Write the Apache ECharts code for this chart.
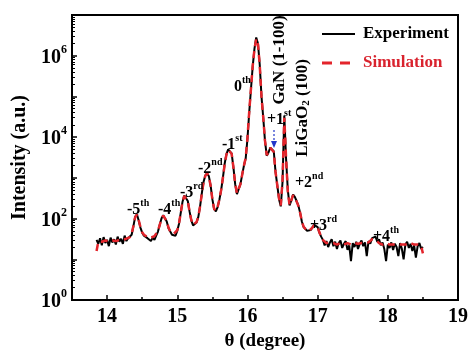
<!DOCTYPE html>
<html><head><meta charset="utf-8">
<script src="https://cdn.jsdelivr.net/npm/echarts@6/dist/echarts.min.js"></script>
<style>html,body{margin:0;padding:0;background:#fff}#c{width:471px;height:356px}</style>
</head><body><div id="c"></div>
<script>
const theta = [
13.85,13.875,13.9,13.925,13.95,13.975,
14,14.025,14.05,14.075,14.1,14.125,14.15,14.175,14.2,14.225,14.25,14.275,14.3,14.325,14.35,14.375,14.4,14.425,14.45,14.475,14.5,14.525,14.55,14.575,14.6,14.625,14.65,14.675,14.7,14.725,14.75,14.775,14.8,14.825,14.85,14.875,14.9,14.925,14.95,14.975,
15,15.025,15.05,15.075,15.1,15.125,15.15,15.175,15.2,15.225,15.25,15.275,15.3,15.325,15.35,15.375,15.4,15.425,15.45,15.475,15.5,15.525,15.55,15.575,15.6,15.625,15.65,15.675,15.7,15.725,15.75,15.775,15.8,15.825,15.85,15.875,15.9,15.925,15.95,15.975,
16,16.025,16.05,16.075,16.1,16.125,16.15,16.175,16.2,16.225,16.25,16.275,16.3,16.325,16.35,16.375,16.4,16.425,16.45,16.475,16.5,16.525,16.55,16.575,16.6,16.625,16.65,16.675,16.7,16.725,16.75,16.775,16.8,16.825,16.85,16.875,16.9,16.925,16.95,16.975,
17,17.025,17.05,17.075,17.1,17.125,17.15,17.175,17.2,17.225,17.25,17.275,17.3,17.325,17.35,17.375,17.4,17.425,17.45,17.475,17.5,17.525,17.55,17.575,17.6,17.625,17.65,17.675,17.7,17.725,17.75,17.775,17.8,17.825,17.85,17.875,17.9,17.925,17.95,17.975,
18,18.025,18.05,18.075,18.1,18.125,18.15,18.175,18.2,18.225,18.25,18.275,18.3,18.325,18.35,18.375,18.4,18.425,18.45,18.475,18.5
];
const experiment = [
30,24,33,22,35,25,
30,21,34,26,31,23,36,27,32,24, 38,28,33,30,40,65,110,128,90,60, 45,38,42,33,36,28,34,30,38,48, 70,100,120,118,85,58,48,40,44,38,
50,75,140,260,370,390,270,150,90,68, 66,80,110,200,420,800,1150,1300,1100,650, 300,170,150,190,290,500,1000,2200,3800,5000, 5300,4000,1800,700,400,420,700,1200,2000,3000,
9000,40000,150000,550000,1500000,2800000,2000000,600000,100000,30000, 8000,3500,4200,5500,5900,4500,1400,650,300,200, 800,34000,3000,500,210,280,390,340,270,210, 140,85,62,56,50,48,52,60,70,76,
62,45,36,30,22,28,20,26,31,21, 27,18,25,29,19,24,28,17,22,9, 25,20,27,18,24,29,21,26,12,28, 24,33,30,36,27,31,22,26,18,9,
23,19,26,17,24,20,12,25,18,10, 23,27,19,24,16,22,11,21,25,18,20
];
const simulation = [
16,27,28,27,28,29,
28,27,28,29,28,28,29,30,29,30, 31,32,33,35,42,66,108,125,92,62, 46,40,37,35,34,34,35,37,41,50, 70,98,118,115,86,60,48,43,42,44,
52,76,140,255,360,380,265,150,92,70, 68,82,112,200,410,790,1130,1280,1080,640, 300,175,155,195,295,500,990,2150,3700,4900, 5200,3900,1800,720,420,430,700,1200,2000,3100,
9500,42000,155000,560000,1450000,2600000,1900000,580000,100000,30000, 8200,3600,4300,5500,5600,4300,1400,650,310,210, 900,30000,3200,450,215,280,375,340,265,205, 140,86,63,56,51,49,53,60,69,74,
62,46,36,30,27,25,24,25,26,25, 24,23,24,25,24,23,24,25,24,23, 24,25,26,24,23,25,26,25,24,26, 28,31,32,30,27,25,24,23,24,25,
24,23,22,23,24,23,22,23,24,23, 22,23,24,25,24,23,22,23,22,21,14
];
const seriesNames = ['Experiment','Simulation'];
const xMajorTicks = [14,15,16,17,18,19];
const xMinorTicks = [13.5,14.5,15.5,16.5,17.5,18.5];
const yMajorTicks = [1,10,100,1e3,1e4,1e5,1e6,1e7];
const yLabelTicks = [1,100,1e4,1e6];
const yMinorTicks = [];
[1,10,100,1e3,1e4,1e5,1e6].forEach(d=>{for(let k=2;k<=9;k++) yMinorTicks.push(d*k);});

const FONT = '"Liberation Serif","Times New Roman",serif';
const RED = '#e3242b';
const chart = echarts.init(document.getElementById('c'), null, {renderer:'canvas'});

function ann(x, y, main, sup) {
  return {type:'text', x:x, y:y-2, z:100,
    style:{text:'{m|'+main+'}{s|'+sup+'}', textVerticalAlign:'middle', fill:'#000',
      rich:{m:{fontFamily:FONT,fontWeight:'bold',fontSize:16,lineHeight:20,fill:'#000',verticalAlign:'bottom'},
            s:{fontFamily:FONT,fontWeight:'bold',fontSize:10,fill:'#000',verticalAlign:'top'}}}};
}

chart.setOption({
  animation:false,
  backgroundColor:'#fff',
  grid:{left:72,right:10,top:15,bottom:49,show:true,borderColor:'#000',borderWidth:2,backgroundColor:'transparent'},
  xAxis:[{
    type:'value', min:13.5, max:19, interval:0.5,
    name:'θ (degree)', nameLocation:'middle', nameGap:32,
    nameTextStyle:{fontFamily:FONT,fontWeight:'bold',fontSize:19,color:'#000'},
    axisLine:{show:true,lineStyle:{color:'#000',width:2}},
    axisTick:{show:true,inside:true,length:5,customValues:xMajorTicks,lineStyle:{color:'#000',width:1.5}},
    axisLabel:{fontFamily:FONT,fontWeight:'bold',fontSize:20,color:'#000',margin:7,customValues:xMajorTicks,
      formatter:v=>Number.isInteger(v)?String(v):''},
    splitLine:{show:false}
  },{
    type:'value', min:13.5, max:19, interval:0.5, position:'bottom',
    axisLine:{show:false}, axisLabel:{show:false}, splitLine:{show:false},
    axisTick:{show:true,inside:true,length:3,customValues:xMinorTicks,lineStyle:{color:'#000',width:1.5}}
  }],
  yAxis:[{
    type:'log', logBase:10, min:1, max:1e7,
    name:'Intensity (a.u.)', nameLocation:'middle', nameGap:38,
    nameTextStyle:{fontFamily:FONT,fontWeight:'bold',fontSize:20,color:'#000'},
    axisLine:{show:true,lineStyle:{color:'#000',width:2}},
    axisTick:{show:true,inside:true,length:5,customValues:yMajorTicks,lineStyle:{color:'#000',width:1.5}},
    axisLabel:{margin:5,customValues:yLabelTicks,
      formatter:v=>{const e=Math.round(Math.log10(v)); return e%2===0?'{b|10}{s|'+e+'}':'';},
      rich:{b:{fontFamily:FONT,fontWeight:'bold',fontSize:20,lineHeight:24,color:'#000',verticalAlign:'bottom'},
            s:{fontFamily:FONT,fontWeight:'bold',fontSize:12,color:'#000',verticalAlign:'top'}}},
    splitLine:{show:false}
  },{
    type:'log', logBase:10, min:1, max:1e7, position:'left',
    axisLine:{show:false}, axisLabel:{show:false}, splitLine:{show:false},
    axisTick:{show:true,inside:true,length:3,customValues:yMinorTicks,lineStyle:{color:'#000',width:1}}
  }],
  series:[{
    name:seriesNames[0], type:'line', xAxisIndex:0, yAxisIndex:0, symbol:'none', showSymbol:false,
    data:theta.map((t,i)=>[t,experiment[i]]),
    lineStyle:{color:'#000',width:2}, itemStyle:{color:'#000'}, z:2
  },{
    name:seriesNames[1], type:'line', xAxisIndex:0, yAxisIndex:0, symbol:'none', showSymbol:false,
    data:theta.map((t,i)=>[t,simulation[i]]),
    lineStyle:{color:RED,width:2.5,type:[7,5]}, itemStyle:{color:RED}, z:3
  }],
  graphic:[
    {type:'line', z:100, shape:{x1:322,y1:34,x2:355,y2:34}, style:{stroke:'#000',lineWidth:2}},
    {type:'text', z:100, x:363, y:34, style:{text:seriesNames[0], textVerticalAlign:'middle', fill:'#000', font:'bold 17px '+FONT}},
    {type:'line', z:100, shape:{x1:322,y1:63,x2:355,y2:63}, style:{stroke:RED,lineWidth:3,lineDash:[10,8]}},
    {type:'text', z:100, x:363, y:63, style:{text:seriesNames[1], textVerticalAlign:'middle', fill:'#d9232e', font:'bold 17px '+FONT}},
    ann(127,210,'-5','th'), ann(158,210,'-4','th'), ann(180,193,'-3','rd'),
    ann(198,169,'-2','nd'), ann(222,145,'-1','st'), ann(234,87,'0','th'),
    ann(267,120,'+1','st'), ann(295,183,'+2','nd'), ann(310,226,'+3','rd'), ann(373,237,'+4','th'),
    {type:'text', x:280, y:60, rotation:Math.PI/2, z:100,
      style:{text:'GaN (1-100)', textAlign:'center', textVerticalAlign:'middle', fill:'#000',
        font:'bold 17px '+FONT}},
    {type:'text', x:303, y:108, rotation:Math.PI/2, z:100,
      style:{text:'{a|LiGaO}{b|2}{a| (100)}', textAlign:'center', textVerticalAlign:'middle',
        rich:{a:{fontFamily:FONT,fontWeight:'bold',fontSize:17,fill:'#000'},
              b:{fontFamily:FONT,fontWeight:'bold',fontSize:11,fill:'#000',verticalAlign:'bottom'}}}},
    {type:'line', z:100, shape:{x1:274,y1:130,x2:274,y2:142}, style:{stroke:'#2236c8',lineWidth:1.2,lineDash:[2,2]}},
    {type:'polygon', z:100, shape:{points:[[271,141],[277,141],[274,148]]}, style:{fill:'#2236c8'}}
  ]
});
</script>
</body></html>
